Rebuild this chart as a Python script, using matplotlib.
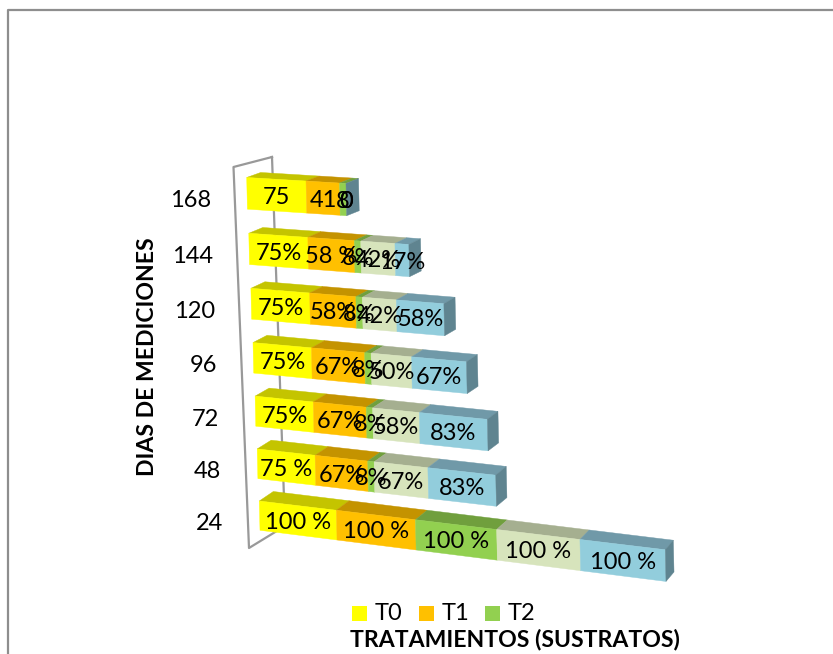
#!/usr/bin/env python3
"""3D style stacked bars: porcentajes por tratamiento y dia de medicion"""

import matplotlib
matplotlib.use('Agg')
import matplotlib.pyplot as plt
from matplotlib.patches import Polygon, Rectangle

plt.rcParams['font.family'] = ['Lato', 'DejaVu Sans']

W, H = 833, 654

# Data, bottom row first
dias = ['24', '48', '72', '96', '120', '144', '168']
t0 = [100, 75, 75, 75, 75, 75, 75]
t1 = [100, 67, 67, 67, 58, 58, 41.7]
t2 = [100, 8, 8, 8, 8, 8, 8]
t3 = [100, 67, 58, 50, 42, 42, 0]
t4 = [100, 83, 83, 67, 58, 17, 0]

lab_t0 = ['100 %', '75 %', '75%', '75%', '75%', '75%', '75']
lab_t1 = ['100 %', '67%', '67%', '67%', '58%', '58 %', '41']
lab_t2 = ['100 %', '8%', '8%', '8%', '8%', '8%', '8']
lab_t3 = ['100 %', '67%', '58%', '50%', '42%', '42%', '0']
lab_t4 = ['100 %', '83%', '83%', '67%', '58%', '17%', '0']

legend_names = ['T0', 'T1', 'T2']

front = ['#FFFF00', '#FFC000', '#92D050', '#D7E4BC', '#92CDDC']
top = ['#C4C400', '#C49300', '#709F3D', '#A5AF90', '#7099A8']
side = ['#A8A800', '#A87E00', '#608834', '#8E977C', '#5F8490']


def project(value, row, up=1.0, back=0.0):
    """value along the bar, row index, up 1=top edge 0=bottom edge, back 0=front 1=rear"""
    x0 = 259.3 - 2.1 * row
    y0 = 501 - 51.7 * row - 0.37 * row ** 2
    dist = (0.76 * value + 1.04e-4 * value ** 2) * (1 + 0.005 * row)
    x = x0 + dist
    y = y0 + (0.12 - 0.01 * row) * dist
    height = 29.3 + 0.4 * row + 0.006 * dist
    y += (1 - up) * height
    x += (1 - up) * 0.7
    x += back * (14 - 6 * dist / 407)
    y -= back * (9.5 - 0.75 * row)
    return x, y


def draw_face(ax, pts, color, z):
    ax.add_patch(Polygon(pts, closed=True, facecolor=color, edgecolor=color,
                         linewidth=0.3, zorder=z))


fig = plt.figure(figsize=(W / 100, H / 100), dpi=100)
ax = fig.add_axes([0, 0, 1, 1])
ax.set_xlim(0, W)
ax.set_ylim(H, 0)
ax.axis('off')

# Outer chart border, the picture is cropped so only top and left show
ax.plot([8.5, 8.5, W], [H, 9.5, 9.5], color='#8E8E8E', linewidth=1.6, zorder=1)

# Back wall of the 3D plot
wall_x = [272, 233.5, 249, 285, 272]
wall_y = [157, 167, 548, 526, 157]
ax.plot(wall_x, wall_y, color='#999999', linewidth=1.6, zorder=2)

all_values = list(zip(t0, t1, t2, t3, t4))
all_labels = list(zip(lab_t0, lab_t1, lab_t2, lab_t3, lab_t4))

z = 3
for row in range(len(dias) - 1, -1, -1):
    start = 0
    for i, v in enumerate(all_values[row]):
        end = start + v
        if v > 0:
            draw_face(ax, [project(start, row, 1, 0), project(end, row, 1, 0),
                           project(end, row, 1, 1), project(start, row, 1, 1)], top[i], z)
            draw_face(ax, [project(start, row, 0, 0), project(end, row, 0, 0),
                           project(end, row, 1, 0), project(start, row, 1, 0)], front[i], z + 0.1)
        start = end
    # the end cap is always the last series colour
    draw_face(ax, [project(start, row, 0, 0), project(start, row, 1, 0),
                   project(start, row, 1, 1), project(start, row, 0, 1)], side[4], z + 0.1)
    z += 1

# Data labels go over everything, they overlap in the narrow segments
for row in range(len(dias)):
    start = 0
    for i, v in enumerate(all_values[row]):
        x, y = project(start + v / 2, row, 0.5, 0)
        ax.text(x, y + 2, all_labels[row][i], ha='center', va='center', fontsize=17,
                color='black', zorder=30)
        start += v
    x, y = project(0, row, 1, 0)
    ax.text(x - 36, y + 23, dias[row], ha='right', va='center', fontsize=17, color='black', zorder=30)

ax.text(148, 357, 'DIAS DE MEDICIONES', rotation=90, ha='center', va='center',
        fontsize=16.6, fontweight='bold', color='black')
ax.text(515, 639, 'TRATAMIENTOS (SUSTRATOS)', ha='center', va='center',
        fontsize=16.6, fontweight='bold', color='black')

# Legend, only the first three entries fit in the original
legend_x = [352, 419, 485]
for name, lx, color in zip(legend_names, legend_x, front):
    ax.add_patch(Rectangle((lx, 606), 15, 15, facecolor=color, edgecolor='none', zorder=5))
    ax.text(lx + 23, 613, name, ha='left', va='center', fontsize=17, color='black')

fig.savefig('out.png', dpi=100)
